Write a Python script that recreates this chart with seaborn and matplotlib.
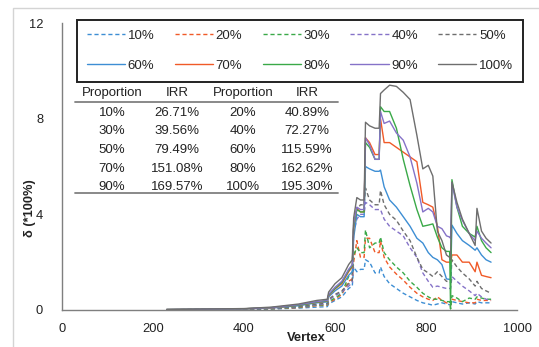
import numpy as np
import pandas as pd
import matplotlib
matplotlib.use("Agg")
import matplotlib.pyplot as plt
from matplotlib.lines import Line2D
from matplotlib.patches import Rectangle
import seaborn as sns

sns.set_style("white")
plt.rcParams["font.family"] = ["Liberation Sans", "DejaVu Sans"]

# Vertex positions of the sampled curve points
vertex = [230, 400, 460, 520, 560, 583, 586, 600, 615, 630, 638, 641, 648, 656, 664,
          667, 676, 688, 697, 700, 708, 720, 735, 750, 765, 780, 793, 805, 815, 825,
          835, 845, 852, 854, 857, 868, 880, 895, 908, 912, 922, 932, 943]

labels = ["10%", "20%", "30%", "40%", "50%", "60%", "70%", "80%", "90%", "100%"]

d10 = [0.01, 0.02, 0.04, 0.08, 0.12, 0.14, 0.25, 0.40, 0.55, 0.90, 1.00, 1.80, 1.60, 1.70,
       1.70, 2.10, 2.00, 1.55, 1.55, 1.80, 1.40, 1.10, 0.90, 0.70, 0.55, 0.40, 0.30, 0.25,
       0.20, 0.25, 0.30, 0.25, 0.22, 0.20, 0.35, 0.30, 0.25, 0.30, 0.25, 0.35, 0.30, 0.30, 0.30]
d20 = [0.01, 0.03, 0.05, 0.10, 0.18, 0.20, 0.30, 0.45, 0.65, 1.20, 1.30, 2.00, 2.90, 2.20,
       2.20, 3.00, 3.00, 2.40, 2.40, 2.90, 2.20, 1.80, 1.50, 1.25, 0.95, 0.70, 0.55, 0.45,
       0.40, 0.55, 0.40, 0.30, 0.25, 0.20, 0.45, 0.40, 0.35, 0.30, 0.30, 0.45, 0.40, 0.40, 0.40]
d30 = [0.01, 0.03, 0.05, 0.12, 0.20, 0.22, 0.35, 0.50, 0.70, 1.40, 1.50, 2.30, 2.60, 2.40,
       2.40, 3.35, 2.60, 2.80, 2.80, 3.05, 2.40, 2.10, 1.80, 1.55, 1.20, 0.95, 0.70, 0.55,
       0.45, 0.45, 0.40, 0.35, 0.35, 0.05, 0.60, 0.50, 0.35, 0.50, 0.45, 0.55, 0.50, 0.45, 0.45]
d40 = [0.01, 0.04, 0.06, 0.14, 0.22, 0.25, 0.40, 0.60, 0.75, 1.00, 1.15, 3.20, 3.80, 4.00,
       4.00, 4.50, 4.40, 4.20, 4.20, 4.20, 3.80, 3.50, 3.30, 3.10, 2.60, 2.20, 1.55, 1.20,
       0.95, 1.00, 0.95, 0.90, 0.90, 0.90, 1.40, 1.20, 1.00, 0.80, 0.60, 0.70, 0.55, 0.45, 0.40]
d50 = [0.01, 0.04, 0.07, 0.15, 0.25, 0.28, 0.45, 0.65, 0.80, 1.10, 1.25, 3.55, 4.20, 4.40,
       4.40, 5.10, 4.60, 4.40, 4.40, 5.00, 4.40, 4.00, 3.75, 3.30, 2.90, 2.20, 1.70, 1.55,
       1.40, 1.60, 1.40, 1.20, 1.18, 1.15, 2.10, 1.80, 1.55, 1.30, 1.00, 1.20, 0.90, 0.80, 0.70]
d60 = [0.02, 0.05, 0.08, 0.18, 0.30, 0.34, 0.55, 0.80, 1.00, 1.45, 1.60, 3.00, 4.00, 3.90,
       3.90, 6.00, 5.90, 5.80, 5.80, 5.85, 5.15, 4.60, 4.30, 3.90, 3.50, 3.00, 2.80, 2.40,
       2.20, 2.10, 1.90, 1.30, 1.28, 1.25, 3.55, 3.20, 2.90, 2.70, 2.50, 2.60, 2.30, 2.10, 2.00]
d70 = [0.02, 0.05, 0.09, 0.20, 0.32, 0.37, 0.60, 0.88, 1.10, 1.60, 1.80, 3.45, 4.25, 4.10,
       4.10, 7.20, 7.00, 6.50, 6.50, 8.00, 7.00, 7.00, 6.80, 6.60, 6.40, 6.20, 4.50, 4.40,
       4.30, 3.50, 2.10, 2.00, 2.00, 1.95, 2.30, 2.30, 2.00, 2.00, 1.60, 2.00, 1.45, 1.40, 1.35]
d80 = [0.02, 0.05, 0.10, 0.20, 0.33, 0.38, 0.62, 0.90, 1.15, 1.65, 1.85, 3.50, 4.20, 4.10,
       4.10, 7.00, 6.80, 6.30, 6.30, 8.50, 8.30, 8.30, 7.60, 6.30, 5.20, 4.20, 3.50, 3.55,
       3.60, 3.05, 2.60, 2.45, 2.45, 0.05, 5.45, 4.30, 3.50, 3.20, 3.05, 3.50, 2.90, 2.60, 2.40]
d90 = [0.02, 0.05, 0.10, 0.22, 0.35, 0.40, 0.65, 0.95, 1.20, 1.70, 1.90, 3.60, 4.30, 4.20,
       4.20, 7.20, 6.90, 6.30, 6.30, 8.30, 7.80, 7.90, 7.40, 7.10, 6.40, 5.30, 4.10, 4.25,
       4.10, 3.50, 3.40, 3.10, 3.05, 3.00, 5.30, 4.30, 3.75, 3.20, 2.90, 3.30, 3.00, 2.80, 2.60]
d100 = [0.02, 0.06, 0.12, 0.25, 0.40, 0.45, 0.75, 1.10, 1.35, 1.90, 2.10, 3.85, 4.70, 4.60,
        4.60, 7.85, 7.70, 7.60, 7.60, 9.05, 9.20, 9.40, 9.35, 9.10, 8.80, 7.30, 5.90, 6.05,
        5.60, 3.30, 2.90, 2.30, 2.20, 2.10, 5.35, 4.50, 3.80, 3.20, 2.70, 4.25, 3.30, 3.00, 2.80]

series = [d10, d20, d30, d40, d50, d60, d70, d80, d90, d100]

# IRR table
table_prop = ["10%", "20%", "30%", "40%", "50%", "60%", "70%", "80%", "90%", "100%"]
table_irr = ["26.71%", "40.89%", "39.56%", "72.27%", "79.49%",
             "115.59%", "151.08%", "162.62%", "169.57%", "195.30%"]

colors = ["#3D8ED4", "#F05A28", "#3AA948", "#8572C8", "#6E6E6E"] * 2
dash = (0, (3, 2))
styles = [dash] * 5 + ["-"] * 5
LW = 1.0

W, H = 539, 347
fig = plt.figure(figsize=(W / 100, H / 100), dpi=100)
ax = fig.add_axes([62 / W, 1 - 310 / H, 455 / W, 287 / H])

for lab, vals, c, ls in zip(labels, series, colors, styles):
    df = pd.DataFrame({"Vertex": vertex, "delta": vals})
    sns.lineplot(data=df, x="Vertex", y="delta", ax=ax, color=c, linestyle=ls,
                 linewidth=LW, estimator=None, legend=False)

ax.set_xlim(0, 1000)
ax.set_ylim(0, 12)
ax.set_xticks([0, 200, 400, 600, 800, 1000])
ax.set_yticks([0, 4, 8, 12])
for s in ["top", "right"]:
    ax.spines[s].set_visible(False)
for s in ["left", "bottom"]:
    ax.spines[s].set_color("#7F7F7F")
    ax.spines[s].set_linewidth(1.0)
ax.tick_params(axis="both", which="major", direction="out", length=4.5, width=1.0,
               color="#7F7F7F", labelsize=9.3, labelcolor="#222222")
ax.tick_params(axis="y", pad=9)
ax.tick_params(axis="x", pad=5)

ax.set_xlabel("Vertex", fontsize=9.3, fontweight="bold", color="#222222")
ax.xaxis.set_label_coords(0.536, -0.098)
ax.xaxis.label.set_va("center")
ax.set_ylabel("δ (*100%)", fontsize=9.3, fontweight="bold", color="#222222")
ax.yaxis.set_label_coords(-0.07, 0.355)
ax.yaxis.label.set_va("center")

# Legend: two rows of five, filled row by row
handles = [Line2D([], [], color=c, linestyle=ls, linewidth=LW)
           for c, ls in zip(colors, styles)]
order = [0, 5, 1, 6, 2, 7, 3, 8, 4, 9]
leg = fig.legend([handles[i] for i in order], [labels[i] for i in order],
                 loc="lower left", ncol=5, mode="expand",
                 bbox_to_anchor=(77 / W, 1 - 82 / H, 446 / W, 63 / H),
                 fontsize=9.5, handlelength=2.9, handletextpad=0.2,
                 labelspacing=1.35, borderpad=0.75, fancybox=False,
                 frameon=True, framealpha=1, borderaxespad=0)
leg.get_frame().set_edgecolor("#222222")
leg.get_frame().set_linewidth(1.4)

# IRR table
col_x = [112, 177, 243, 307]
fs = 9.5
header = ["Proportion", "IRR", "Proportion", "IRR"]
for x, t in zip(col_x, header):
    fig.text(x / W, 1 - 93 / H, t, ha="center", va="center", fontsize=fs, color="#222222")
row_y = [113, 131.5, 150, 168.5, 187]
for r, y in enumerate(row_y):
    cells = [table_prop[2 * r], table_irr[2 * r], table_prop[2 * r + 1], table_irr[2 * r + 1]]
    for x, t in zip(col_x, cells):
        fig.text(x / W, 1 - y / H, t, ha="center", va="center", fontsize=fs, color="#222222")
for y in [102, 193]:
    fig.add_artist(Line2D([75 / W, 338 / W], [1 - y / H, 1 - y / H],
                          transform=fig.transFigure, color="#808080", linewidth=1.3))

# Outer chart frame
top = 1 - 8 / H
fig.add_artist(Rectangle((13 / W, -0.2), 1.2, top + 0.2,
                         transform=fig.transFigure, fill=False,
                         edgecolor="#D4D4D4", linewidth=1.0))

fig.savefig("out.png", dpi=100)
